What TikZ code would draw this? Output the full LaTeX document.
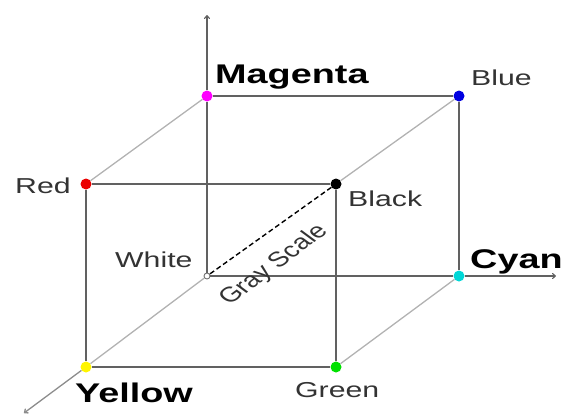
\documentclass[tikz,border=0pt]{standalone}
\usepackage{fontspec}
\setmainfont{Liberation Sans}
\newfontfamily\labfont[FakeStretch=1.4]{Liberation Sans}
\usetikzlibrary{arrows.meta}
\definecolor{cmagenta}{RGB}{255,0,255}
\definecolor{cblue}{RGB}{0,0,225}
\definecolor{ccyan}{RGB}{0,215,215}
\definecolor{cred}{RGB}{235,0,0}
\definecolor{cgreen}{RGB}{0,225,0}
\definecolor{cyellow}{RGB}{255,245,0}
\begin{document}
\begin{tikzpicture}[x=1pt,y=-1pt,
  dot/.style={circle, fill=#1, minimum size=11pt, inner sep=0pt},
  cubeedge/.style={draw=black!62, line width=1.3pt},
  diagedge/.style={draw=black!30, line width=1.3pt},
  axisline/.style={draw=black!62, line width=1.1pt},
  axisarrow/.style={-{To[length=4pt,width=6pt]}},
  graydash/.style={draw=black, line width=1.4pt, dash pattern=on 5pt off 3pt},
  reglabel/.style={anchor=base west, inner sep=0pt, text=black!80, font=\labfont\fontsize{21.6}{26}\selectfont},
  boldlabel/.style={anchor=base west, inner sep=0pt, text=black, font=\labfont\fontsize{27}{32}\selectfont\bfseries}]
\useasboundingbox (0,0) rectangle (561,416);
% corner dots
\node[circle, draw=black!55, fill=white, line width=0.9pt, minimum size=6pt, inner sep=0pt] (white) at (207,276) {};
\node[dot=cmagenta] (magenta) at (207,96) {};
\node[dot=cblue] (blue) at (459,96) {};
\node[dot=ccyan] (cyan) at (459,276) {};
\node[dot=cred] (red) at (86,184) {};
\node[dot=black] (black) at (336,184) {};
\node[dot=cgreen] (green) at (336,367) {};
\node[dot=cyellow] (yellow) at (86,367) {};
% axis ends
\coordinate (ytop) at (207,15);
\coordinate (xend) at (556,276);
\coordinate (zend) at (24,413);
% axes
\draw[axisline] (white) -- (magenta);
\draw[axisline, axisarrow] (magenta) -- (ytop);
\draw[axisline] (white) -- (cyan);
\draw[axisline, axisarrow] (cyan) -- (xend);
\draw[diagedge] (white) -- (yellow);
\draw[diagedge, axisarrow, draw=black!45] (yellow) -- (zend);
% cube edges
\draw[cubeedge] (magenta) -- (blue);
\draw[cubeedge] (blue) -- (cyan);
\draw[cubeedge] (red) -- (black);
\draw[cubeedge] (red) -- (yellow);
\draw[cubeedge] (yellow) -- (green);
\draw[cubeedge] (green) -- (black);
\draw[diagedge] (magenta) -- (red);
\draw[diagedge] (blue) -- (black);
\draw[diagedge] (cyan) -- (green);
\draw[graydash] (black) -- (white);
% labels
\node[boldlabel] (lmagenta) at (215,83) {Magenta};
\node[reglabel] (lblue) at (471,85) {Blue};
\node[reglabel] (lred) at (15,193) {Red};
\node[reglabel] (lblack) at (348,206) {Black};
\node[reglabel] (lwhite) at (115,267) {White};
\node[boldlabel] (lcyan) at (470,268) {Cyan};
\node[boldlabel] (lyellow) at (75,402) {Yellow};
\node[reglabel] (lgreen) at (295,397) {Green};
\begin{scope}[shift={(274,265)}]
\node[transform shape, xscale=1.35, rotate=45, inner sep=0pt, text=black!80, font=\fontsize{21}{26}\selectfont] (lgray) at (0,0) {Gray Scale};
\end{scope}
\end{tikzpicture}
\end{document}
